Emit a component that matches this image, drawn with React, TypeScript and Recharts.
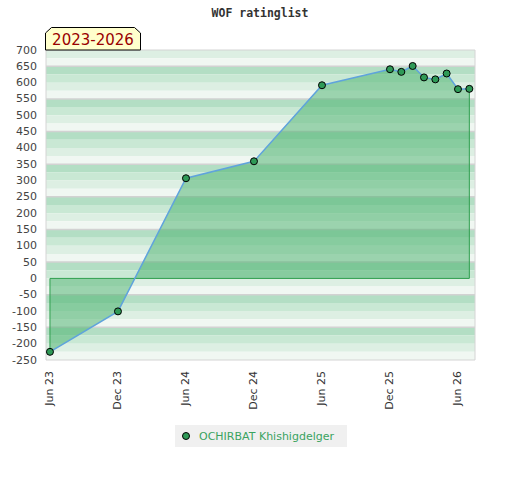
import {
  ComposedChart,
  Area,
  Line,
  XAxis,
  YAxis,
  ReferenceArea,
  ReferenceLine,
} from 'recharts';

// months counted from Jun 2023
const months = [0, 6, 12, 18, 24, 30, 31, 32, 33, 34, 35, 36, 37];
const ratings = [-225, -101, 307, 359, 592, 641, 633, 651, 616, 610, 628, 580, 581];

const xTicks = [0, 6, 12, 18, 24, 30, 36];
const xTickLabels = ['Jun 23', 'Dec 23', 'Jun 24', 'Dec 24', 'Jun 25', 'Dec 25', 'Jun 26'];

const yTicks = [-250, -200, -150, -100, -50, 0, 50, 100, 150, 200, 250, 300, 350, 400, 450, 500, 550, 600, 650, 700];
const rightLabels = [-250, -150, -50, 50, 150, 250, 350, 450, 550, 650];

const seriesName = 'OCHIRBAT Khishigdelger';
const periodLabel = '2023-2026';

const data = months.map((m, i) => ({ m, rating: ratings[i] }));

const Y_MIN = -250;
const Y_MAX = 700;
const bandColors = ['#b3dec4', '#c9e8d4', '#ddefe3', '#f0f7f2'];
const bands: { y1: number; y2: number; fill: string }[] = [];
for (let top = Y_MAX; top > Y_MIN; top -= 25) {
  const idx = ((((650 - top) / 25) % 4) + 4) % 4;
  bands.push({ y1: top - 25, y2: top, fill: bandColors[idx] });
}
const grayLines = rightLabels.filter((v) => v > Y_MIN);

const font = '"DejaVu Sans", Verdana, sans-serif';

function XTick(props: any) {
  const { x, y, payload } = props;
  const i = xTicks.indexOf(payload.value);
  return (
    <text
      x={x}
      y={y + 11}
      transform={`rotate(-90, ${x}, ${y + 11})`}
      textAnchor="end"
      dominantBaseline="central"
      fontSize={11}
      fontFamily={font}
      fill="#333"
    >
      {xTickLabels[i]}
    </text>
  );
}

function LeftTick(props: any) {
  const { x, y, payload } = props;
  return (
    <text x={x - 9} y={y} textAnchor="end" dominantBaseline="central" fontSize={11} fontFamily={font} fill="#444">
      {payload.value}
    </text>
  );
}

function RightTick(props: any) {
  const { x, y, payload } = props;
  const major = rightLabels.includes(payload.value);
  return (
    <g>
      <line x1={x - (major ? 5 : 2)} x2={x} y1={y} y2={y} stroke="#000" strokeWidth={1} />
      {major && (
        <text x={x + 7} y={y} textAnchor="start" dominantBaseline="central" fontSize={11} fontFamily={font} fill="#222">
          {payload.value}
        </text>
      )}
    </g>
  );
}

export default function App() {
  const first = data[0];
  const last = data[data.length - 1];
  return (
    <div style={{ position: 'absolute', left: 0, top: 0, width: 520, height: 480, background: '#fff' }}>
      <ComposedChart width={520} height={480} data={data} margin={{ top: 50, right: 0, bottom: 0, left: 0 }}>
        <XAxis
          dataKey="m"
          type="number"
          domain={[-0.35, 37.5]}
          ticks={xTicks}
          interval={0}
          height={120}
          tickSize={0}
          tickMargin={0}
          tickLine={false}
          axisLine={{ stroke: '#d4d4d4' }}
          tick={XTick}
        />
        <YAxis
          yAxisId="l"
          orientation="left"
          type="number"
          domain={[Y_MIN, Y_MAX]}
          ticks={yTicks}
          interval={0}
          width={46}
          tickSize={0}
          tickMargin={0}
          tickLine={false}
          axisLine={{ stroke: '#d4d4d4' }}
          tick={LeftTick}
        />
        <YAxis
          yAxisId="r"
          orientation="right"
          type="number"
          domain={[Y_MIN, Y_MAX]}
          ticks={yTicks}
          interval={0}
          width={45}
          tickSize={0}
          tickMargin={0}
          tickLine={false}
          axisLine={{ stroke: '#d4d4d4' }}
          tick={RightTick}
        />
        {bands.map((b) => (
          <ReferenceArea
            key={b.y2}
            yAxisId="l"
            y1={b.y1}
            y2={b.y2}
            fill={b.fill}
            fillOpacity={1}
            stroke="none"
            zIndex={-90}
          />
        ))}
        {grayLines.map((v) => (
          <ReferenceLine key={v} yAxisId="l" y={v} stroke="#d2d2d2" strokeWidth={1.5} zIndex={-80} />
        ))}
        <ReferenceLine yAxisId="l" y={Y_MAX} stroke="#d4d4d4" zIndex={-80} />
        <Area
          yAxisId="l"
          dataKey="rating"
          type="linear"
          baseValue={0}
          fill="#46af6a"
          fillOpacity={0.5}
          stroke="none"
          isAnimationActive={false}
        />
        <ReferenceLine
          yAxisId="l"
          segment={[{ x: first.m, y: 0 }, { x: last.m, y: 0 }]}
          stroke="#2e9e4e"
          strokeWidth={1}
        />
        <ReferenceLine
          yAxisId="l"
          segment={[{ x: first.m, y: 0 }, { x: first.m, y: first.rating }]}
          stroke="#2e9e4e"
          strokeWidth={1}
        />
        <ReferenceLine
          yAxisId="l"
          segment={[{ x: last.m, y: 0 }, { x: last.m, y: last.rating }]}
          stroke="#2e9e4e"
          strokeWidth={1}
        />
        <Line
          yAxisId="l"
          dataKey="rating"
          type="linear"
          stroke="#5fa3dc"
          strokeWidth={1.5}
          dot={{ r: 3.5, fill: '#2f9a57', stroke: '#000', strokeWidth: 1 }}
          activeDot={false}
          isAnimationActive={false}
        />
      </ComposedChart>

      <svg width={520} height={60} style={{ position: 'absolute', left: 0, top: 0 }}>
        <text
          x={260}
          y={17}
          textAnchor="middle"
          fontSize={11.5}
          fontWeight="bold"
          fontFamily='"DejaVu Sans Mono", monospace'
          fill="#333"
        >
          WOF ratinglist
        </text>
        <polygon points="45.5,50 45.5,33 51.5,27.5 134.5,27.5 140.5,33 140.5,50" fill="#ffffcc" stroke="#000" strokeWidth={1} />
        <text x={93} y={45} textAnchor="middle" fontSize={15} fontFamily={font} fill="#990000">
          {periodLabel}
        </text>
      </svg>

      <div
        style={{
          position: 'absolute',
          left: 175,
          top: 425,
          width: 172,
          height: 22,
          background: '#f0f0f0',
          display: 'flex',
          alignItems: 'center',
          fontFamily: font,
          fontSize: 11,
          color: '#3aa35f',
        }}
      >
        <svg width={24} height={22}>
          <circle cx={11} cy={11} r={3.5} fill="#2f9a57" stroke="#000" strokeWidth={1} />
        </svg>
        <span>{seriesName}</span>
      </div>
    </div>
  );
}
